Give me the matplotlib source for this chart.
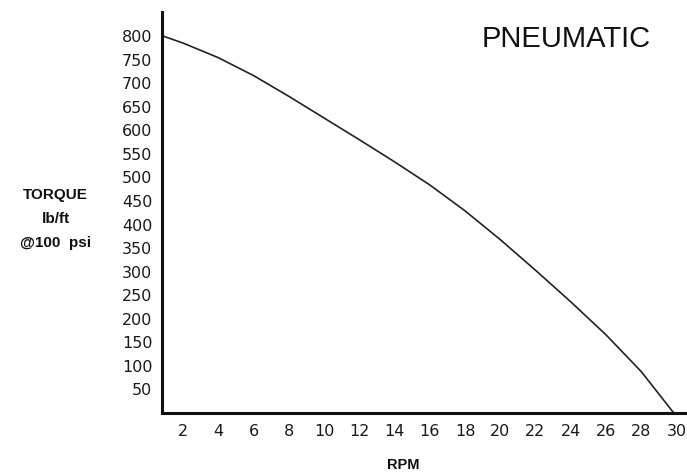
import matplotlib
matplotlib.use("Agg")
import matplotlib.pyplot as plt

# Data
rpm = [0.85, 2, 4, 6, 8, 10, 12, 14, 16, 18, 20, 22, 24, 26, 28, 29.85]
torque = [800, 785, 754, 716, 672, 626, 580, 533, 484, 429, 368, 303, 236, 166, 88, 0]

x_ticks = [2, 4, 6, 8, 10, 12, 14, 16, 18, 20, 22, 24, 26, 28, 30]
y_ticks = [50, 100, 150, 200, 250, 300, 350, 400, 450, 500, 550, 600, 650, 700, 750, 800]

fig = plt.figure(figsize=(6.87, 4.74), dpi=100)
ax = fig.add_axes([0.2358, 0.1287, 0.7642, 0.846])

ax.plot(rpm, torque, color="#222222", linewidth=1.2, solid_capstyle="round",
        solid_joinstyle="round")

ax.set_xlim(0.8, 30.6)
ax.set_ylim(0, 851)
ax.set_xticks(x_ticks)
ax.set_yticks(y_ticks)
ax.set_xticklabels([str(v) for v in x_ticks])
ax.set_yticklabels([str(v) for v in y_ticks])
ax.tick_params(axis="both", length=0, labelsize=11.5, colors="#1a1a1a")
ax.tick_params(axis="y", pad=7)
ax.tick_params(axis="x", pad=8)

for s in ["top", "right"]:
    ax.spines[s].set_visible(False)
for s in ["left", "bottom"]:
    ax.spines[s].set_linewidth(2.2)
    ax.spines[s].set_color("#111111")

fig.text(0.824, 0.918, "PNEUMATIC", fontsize=21, family="Liberation Sans",
         ha="center", va="center", color="#111111")

fig.text(0.081, 0.588, "TORQUE", fontsize=11, fontweight="bold",
         family="Liberation Sans", ha="center", va="center", color="#111111")
fig.text(0.081, 0.537, "lb/ft", fontsize=11, fontweight="bold",
         family="Liberation Sans", ha="center", va="center", color="#111111")
fig.text(0.081, 0.488, "@100  psi", fontsize=11, fontweight="bold",
         family="Liberation Sans", ha="center", va="center", color="#111111")

fig.text(0.587, 0.019, "RPM", fontsize=10.5, fontweight="bold",
         family="Liberation Sans", ha="center", va="center", color="#111111")

fig.savefig("out.png", dpi=100, facecolor="white")
